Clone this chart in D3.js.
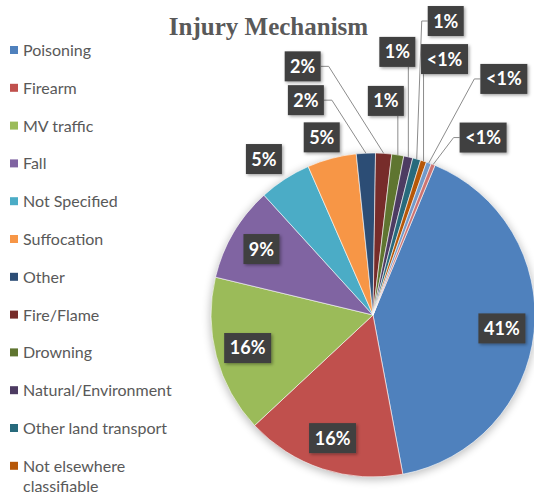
<!DOCTYPE html>
<html>
<head>
<meta charset="utf-8">
<script src="https://cdn.jsdelivr.net/npm/d3@7"></script>
<style>
    body { margin: 0; background: #fff; }
    svg { display: block; }
</style>
</head>
<body>
<div id="chart"></div>
<script>
(function (d3) {
    'use strict';

    // values (percent of all injuries)
    var categories = ['Poisoning', 'Firearm', 'MV traffic', 'Fall', 'Not Specified', 'Suffocation',
        'Other', 'Fire/Flame', 'Drowning', 'Natural/Environment', 'Other land transport',
        'Not elsewhere classifiable', 'Cut/Pierce', 'Struck by/against'];
    var values = [40.8, 16, 15.7, 9.5, 5.2, 4.9, 1.9, 1.6, 1.2, 0.9, 0.8, 0.6, 0.5, 0.4];
    var labels = ['41%', '16%', '16%', '9%', '5%', '5%', '2%', '2%', '1%', '1%', '1%', '<1%', '<1%', '<1%'];
    var colors = ['#4f81bd', '#c0504d', '#9bbb59', '#8064a2', '#4bacc6', '#f79646', '#2c4d75',
        '#772c2a', '#5f7530', '#4d3b62', '#276a7c', '#b65708', '#729aca', '#cd7371'];

    // where the outside labels sit, relative to the edge of their slice
    var labelOffset = [null, null, null, null, [-21, -20], [-10, -21], [-60, -53], [-81, -87],
        [-12, -54], [-11, -105], [29, -138], [21, -102], [75, -84], [50, -27]];

    var width = 534, height = 498;
    var cx = 373, cy = 315, radius = 162;
    var boxH = 30;

    var svg = d3.select('#chart').append('svg')
        .attr('width', width)
        .attr('height', height);

    var defs = svg.append('defs');
    var blur = defs.append('filter').attr('id', 'pie-shadow')
        .attr('x', '-20%').attr('y', '-20%').attr('width', '140%').attr('height', '140%');
    blur.append('feGaussianBlur').attr('stdDeviation', 4);

    var boxShadow = defs.append('filter').attr('id', 'box-shadow')
        .attr('x', '-30%').attr('y', '-30%').attr('width', '160%').attr('height', '160%');
    boxShadow.append('feDropShadow')
        .attr('dx', 1.5).attr('dy', 1.5).attr('stdDeviation', 1.5)
        .attr('flood-color', '#000').attr('flood-opacity', 0.35);

    // title
    svg.append('text')
        .attr('x', 268.5)
        .attr('y', 35)
        .attr('text-anchor', 'middle')
        .style('font-family', '"Liberation Serif", "Times New Roman", serif')
        .style('font-weight', 'bold')
        .style('font-size', '25px')
        .style('fill', '#595959')
        .text('Injury Mechanism');

    // legend (rows that run past the bottom edge are left out, as in the original)
    var legend = svg.append('g').attr('class', 'legend');
    var rowStep = 37.8, firstBase = 56, maxTextW = 160;
    var extraLines = 0;
    categories.forEach(function (name, i) {
        var base = firstBase + i * rowStep + extraLines * 20;
        if (base > height - 4) return;
        var row = legend.append('g');
        row.append('rect')
            .attr('x', 10).attr('y', base - 10)
            .attr('width', 8).attr('height', 8)
            .style('fill', colors[i]);
        var text = row.append('text')
            .attr('x', 23).attr('y', base)
            .style('font-family', 'Lato, "Open Sans", sans-serif')
            .style('font-size', '16px')
            .style('fill', '#595959');

        // wrap long names onto a second line
        var words = name.split(' '), line = [], tspan = text.append('tspan').attr('x', 23);
        words.forEach(function (w) {
            line.push(w);
            tspan.text(line.join(' '));
            if (tspan.node().getComputedTextLength() > maxTextW && line.length > 1) {
                line.pop();
                tspan.text(line.join(' '));
                line = [w];
                tspan = text.append('tspan').attr('x', 23).attr('dy', 20).text(w);
                extraLines += 1;
            }
        });
    });

    // pie
    var pie = d3.pie()
        .sort(null)
        .value(function (d) { return d; })
        .startAngle(22.5 * Math.PI / 180)
        .endAngle(22.5 * Math.PI / 180 + 2 * Math.PI);

    var arc = d3.arc().innerRadius(0).outerRadius(radius);
    var labelArc = d3.arc().innerRadius(radius * 0.8).outerRadius(radius * 0.8);

    var arcs = pie(values);

    var g = svg.append('g').attr('transform', 'translate(' + cx + ',' + cy + ')');

    g.append('circle')
        .attr('r', radius + 1)
        .attr('cy', 2)
        .style('fill', '#000')
        .style('opacity', 0.25)
        .attr('filter', 'url(#pie-shadow)');

    g.selectAll('path.slice')
        .data(arcs)
        .enter().append('path')
        .attr('class', 'slice')
        .attr('d', arc)
        .style('fill', function (d, i) { return colors[i]; })
        .style('stroke', '#fff')
        .style('stroke-width', 0.6);

    // data labels
    var labelLayer = g.append('g').attr('class', 'labels');
    arcs.forEach(function (d, i) {
        var mid = (d.startAngle + d.endAngle) / 2;
        var edge = [radius * Math.sin(mid), -radius * Math.cos(mid)];
        var pos;
        if (labelOffset[i]) {
            pos = [edge[0] + labelOffset[i][0], edge[1] + labelOffset[i][1]];
        } else {
            pos = labelArc.centroid(d);
        }

        var lg = labelLayer.append('g');
        var rect = lg.append('rect')
            .style('fill', '#404040')
            .attr('filter', 'url(#box-shadow)');
        var text = lg.append('text')
            .attr('x', pos[0])
            .attr('y', pos[1])
            .attr('dy', '0.36em')
            .attr('text-anchor', 'middle')
            .style('font-family', 'Lato, "Open Sans", sans-serif')
            .style('font-weight', 'bold')
            .style('font-size', '18px')
            .style('fill', '#fff')
            .text(labels[i]);
        var boxW = Math.round(text.node().getComputedTextLength() + 11);
        var left = pos[0] - boxW / 2, right = pos[0] + boxW / 2;
        var top = pos[1] - boxH / 2, bottom = pos[1] + boxH / 2;
        rect.attr('x', left).attr('y', top).attr('width', boxW).attr('height', boxH);

        // leader line only when the box is away from its slice
        if (!labelOffset[i]) return;
        var dist = Math.hypot(labelOffset[i][0], labelOffset[i][1]);
        if (dist < 35) return;
        var pts;
        if (edge[0] >= left && edge[0] <= right) {
            pts = [edge, [edge[0], bottom]];
        } else if (edge[0] > right) {
            pts = [edge, [right + 8, pos[1]], [right, pos[1]]];
        } else {
            pts = [edge, [left - 6, pos[1]], [left, pos[1]]];
        }
        labelLayer.insert('path', ':first-child')
            .attr('d', d3.line()(pts))
            .style('fill', 'none')
            .style('stroke', '#8c8c8c')
            .style('stroke-width', 1);
    });

}(window.d3));
</script>
</body>
</html>
